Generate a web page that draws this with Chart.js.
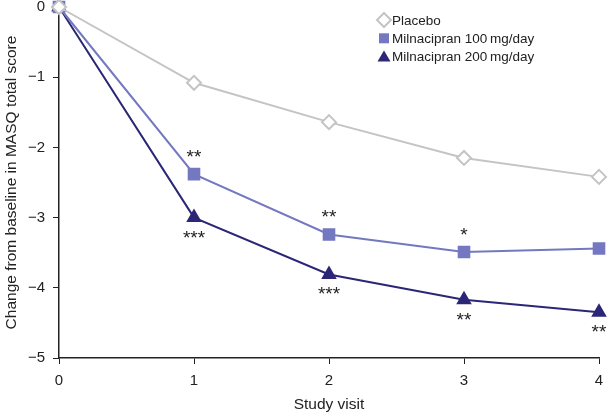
<!DOCTYPE html>
<html><head><meta charset="utf-8">
<script src="https://cdn.jsdelivr.net/npm/chart.js@4"></script>
<style>html,body{margin:0;padding:0;background:#fff}#w{width:614px;height:416px}</style>
</head><body><div id="w"><canvas id="c" width="614" height="416"></canvas></div>
<script>
const visits = [0, 1, 2, 3, 4];
const placebo = [0, -1.08, -1.64, -2.15, -2.42];
const milna100 = [0, -2.38, -3.24, -3.49, -3.44];
const milna200 = [0, -3.0, -3.81, -4.17, -4.35];
const seriesLabels = ['Placebo', 'Milnacipran 100\u2009mg/day', 'Milnacipran 200\u2009mg/day'];
const yTicks = [0, -1, -2, -3, -4, -5];
// significance marks: [seriesIndex, visit, text, 'above'|'below']
const sigMarks = [
  [1, 1, '**', 'above'], [2, 1, '***', 'below'],
  [1, 2, '**', 'above'], [2, 2, '***', 'below'],
  [1, 3, '*', 'above'], [2, 3, '**', 'below'],
  [2, 4, '**', 'below']
];
const FONT = '"Liberation Sans", Arial, Helvetica, sans-serif';
const toPts = arr => arr.map((v, i) => ({x: visits[i], y: v}));

const sigPlugin = {
  id: 'sig',
  afterDatasetsDraw(chart) {
    const ctx = chart.ctx, xs = chart.scales.x, ys = chart.scales.y;
    ctx.save();
    ctx.fillStyle = '#222';
    ctx.font = '19px ' + FONT;
    ctx.textAlign = 'center';
    ctx.textBaseline = 'alphabetic';
    sigMarks.forEach(([s, v, t, pos]) => {
      const val = chart.data.datasets[s].data[v].y;
      const px = xs.getPixelForValue(v);
      const cy = ys.getPixelForValue(val) + (pos === 'above' ? -22 : 15);
      ctx.fillText(t, px, cy + 11);
    });
    ctx.restore();
  }
};
const legendPlugin = {
  id: 'floatLegend',
  afterDraw(chart) {
    const ctx = chart.ctx;
    ctx.save();
    ctx.font = '13.5px ' + FONT;
    ctx.textBaseline = 'middle';
    ctx.textAlign = 'left';
    chart.data.datasets.forEach((ds, i) => {
      const y = 20 + i * 18.3, x = 384;
      ctx.fillStyle = ds.pointBackgroundColor;
      ctx.strokeStyle = ds.borderColor;
      ctx.lineWidth = 2;
      ctx.beginPath();
      if (ds.pointStyle === 'rectRot') {
        ctx.moveTo(x, y - 7); ctx.lineTo(x + 7, y); ctx.lineTo(x, y + 7); ctx.lineTo(x - 7, y); ctx.closePath();
        ctx.fill(); ctx.stroke();
      } else if (ds.pointStyle === 'rect') {
        ctx.rect(x - 5, y - 5, 10, 10); ctx.fill();
      } else {
        ctx.moveTo(x, y - 6); ctx.lineTo(x + 6.5, y + 5); ctx.lineTo(x - 6.5, y + 5); ctx.closePath(); ctx.fill();
      }
      ctx.fillStyle = '#222';
      ctx.fillText(ds.label, x + 8, y + 1);
    });
    ctx.restore();
  }
};

new Chart(document.getElementById('c'), {
  type: 'line',
  data: {
    datasets: [
      {label: seriesLabels[0], data: toPts(placebo), borderColor: '#c4c4c4', pointBackgroundColor: '#ffffff', pointBorderColor: '#c4c4c4', pointStyle: 'rectRot', pointRadius: 7, pointBorderWidth: 2, borderWidth: 2, clip: false},
      {label: seriesLabels[1], data: toPts(milna100), borderColor: '#7478c0', pointBackgroundColor: '#7478c0', pointBorderColor: '#7478c0', pointStyle: 'rect', pointRadius: 7.5, borderWidth: 2, clip: false},
      {label: seriesLabels[2], data: toPts(milna200), borderColor: '#2b2675', pointBackgroundColor: '#2b2675', pointBorderColor: '#2b2675', pointStyle: 'triangle', pointRadius: 7, borderWidth: 2, clip: false}
    ]
  },
  options: {
    responsive: false, animation: false,
    layout: {autoPadding: false, padding: {top: 0, right: 15, left: 0, bottom: 0}},
    plugins: {legend: {display: false}, tooltip: {enabled: false}},
    scales: {
      x: {
        type: 'linear', min: 0, max: 4,
        afterFit: s => { s.height = 58; s.paddingLeft = 0; s.paddingRight = 0; },
        ticks: {stepSize: 1, color: '#222', font: {family: FONT, size: 15}, padding: 8},
        grid: {drawOnChartArea: false, drawTicks: true, tickLength: 6, color: '#222'},
        border: {color: '#222', width: 1.5},
        title: {display: true, text: 'Study visit', color: '#222', font: {family: FONT, size: 15.5}, padding: {top: 2, bottom: 2}}
      },
      y: {
        type: 'linear', min: -5, max: 0,
        afterFit: s => { s.width = 59; s.paddingTop = 7; s.paddingBottom = 0; },
        afterBuildTicks: s => { s.ticks = yTicks.map(v => ({value: v})); },
        ticks: {color: '#222', font: {family: FONT, size: 15}, padding: 8,
          callback: v => String(v).replace('-', '\u2212')},
        grid: {drawOnChartArea: false, drawTicks: true, tickLength: 6, color: '#222'},
        border: {color: '#222', width: 1.5},
        title: {display: true, text: 'Change from baseline in MASQ total score', color: '#222', font: {family: FONT, size: 15.5}, padding: {top: 2, bottom: 2}}
      }
    }
  },
  plugins: [sigPlugin, legendPlugin]
});
</script>
</body></html>
